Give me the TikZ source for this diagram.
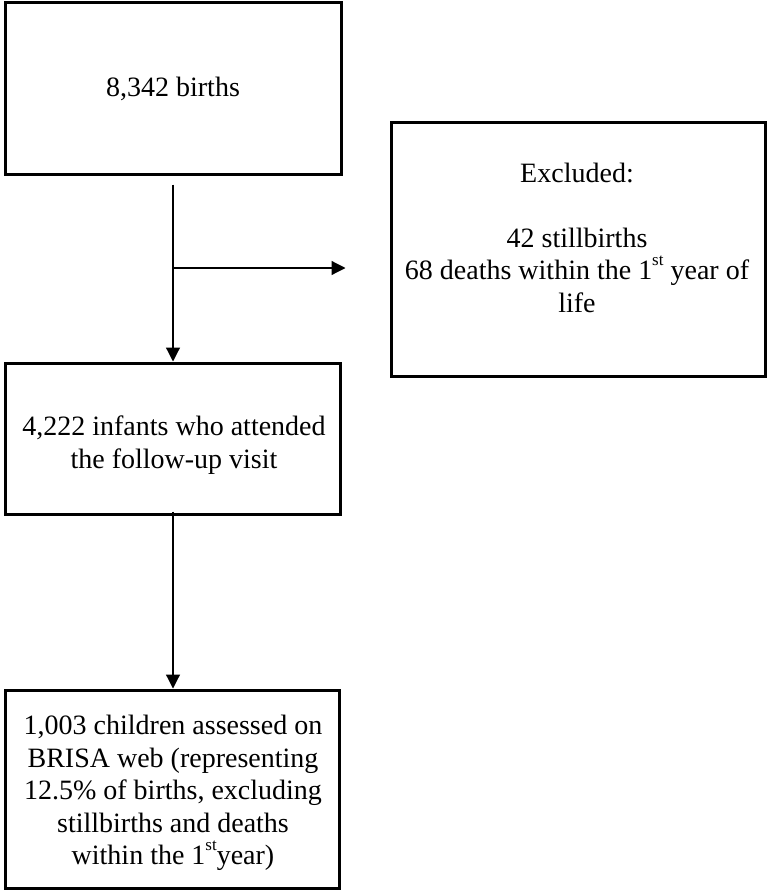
\documentclass[tikz,border=0pt]{standalone}
\usepackage{fontspec}
\setmainfont{Liberation Serif}
\usetikzlibrary{arrows.meta,calc}
\newcommand{\mysup}[1]{\raisebox{0.5em}{\fontsize{17}{17}\selectfont #1}}
\begin{document}
\begin{tikzpicture}[x=1pt,y=-1pt,
  box/.style={draw=black,line width=3pt,rectangle,inner sep=0pt,align=center,
    font=\fontsize{28}{32.5}\selectfont},
  txt/.style={inner sep=0pt,align=center,font=\fontsize{28}{32.5}\selectfont},
  arr/.style={line width=1.2pt,-{Triangle[length=14pt,width=14pt]}}]
\useasboundingbox (0,0) rectangle (770,891);
\node[box,minimum width=336pt,minimum height=171pt] (b1) at (173,88.5) {8,342 births};
\node[box,minimum width=374pt,minimum height=254pt] (excl) at (578,249) {};
\node[txt] (excltext) at (577,238) {Excluded:\\[32pt]42 stillbirths\\68 deaths within the 1\mysup{st} year of\\life};
\node[box,minimum width=335pt,minimum height=151pt] (b3) at (172.5,438.5) {};
\node[txt] (b3text) at (174,445) {4,222 infants who attended\\the follow-up visit};
\node[box,minimum width=334pt,minimum height=198pt] (b4) at (172,789) {};
\node[txt] (b4text) at (173,793) {1,003 children assessed on\\BRISA web (representing\\12.5\% of births, excluding\\stillbirths and deaths\\within the 1\mysup{st}year)};
\coordinate (junction) at (173,268);
\draw[arr,shorten <=9pt] (b1.south -| junction) -- (b3.north -| junction);
\draw[arr,shorten >=44pt] (junction) -- (junction -| excl.west);
\draw[arr,shorten <=-4pt] (b3.south -| junction) -- (b4.north -| junction);
\end{tikzpicture}
\end{document}
